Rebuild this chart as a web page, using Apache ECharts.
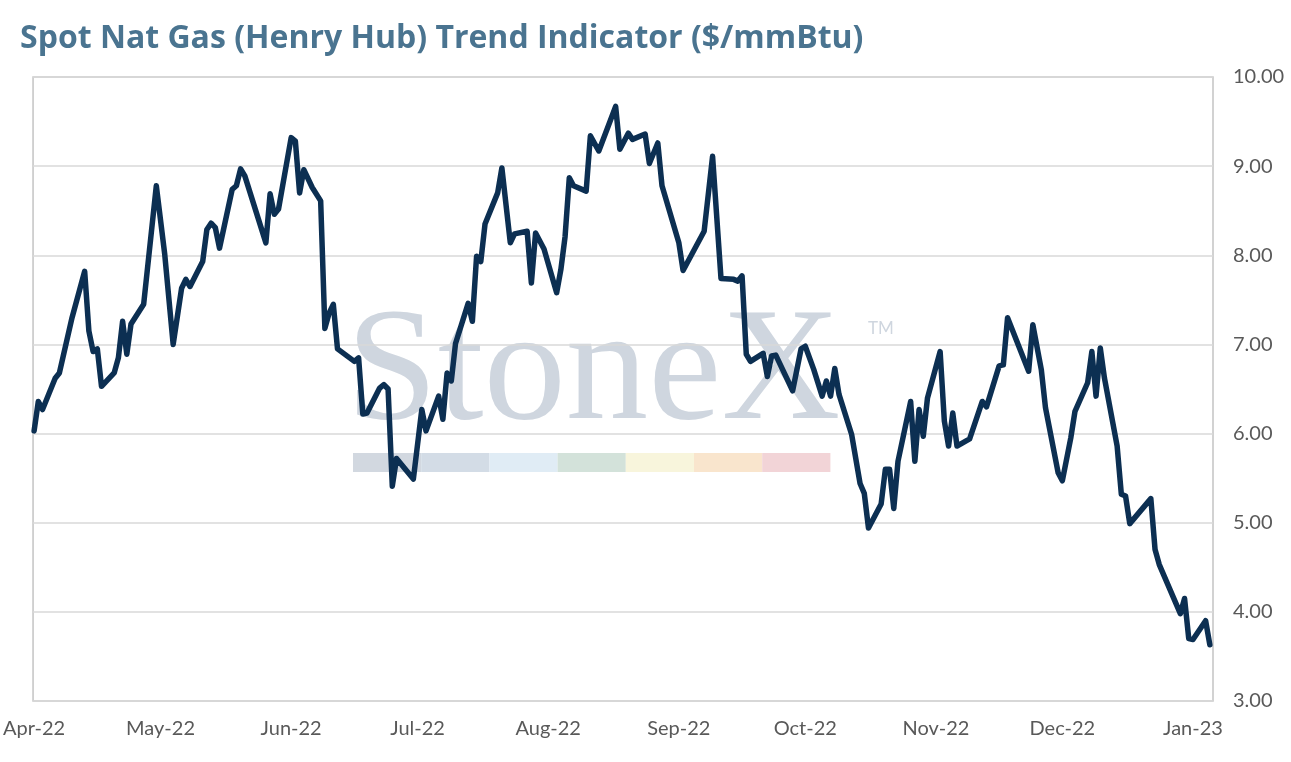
<!DOCTYPE html>
<html>
<head>
<meta charset="utf-8">
<title>Spot Nat Gas (Henry Hub) Trend Indicator</title>
<script src="https://cdn.jsdelivr.net/npm/echarts@6/dist/echarts.min.js"></script>
<style>
    html, body { margin: 0; padding: 0; background: #ffffff; }
    #chart-box { width: 1291px; height: 762px; }
</style>
</head>
<body>
<div id="chart-box"></div>

<script>
    // 数据：读图得到的价格拐点（日期 / $/mmBtu）
    var priceDates = [
        '2022-04-01', '2022-04-02', '2022-04-03', '2022-04-06', '2022-04-07', '2022-04-10', '2022-04-13', '2022-04-14',
        '2022-04-15', '2022-04-16', '2022-04-17', '2022-04-20', '2022-04-21', '2022-04-22', '2022-04-23', '2022-04-24',
        '2022-04-27', '2022-04-30', '2022-05-02', '2022-05-04', '2022-05-06', '2022-05-07', '2022-05-08', '2022-05-11',
        '2022-05-12', '2022-05-13', '2022-05-14', '2022-05-15', '2022-05-18', '2022-05-19', '2022-05-20', '2022-05-21',
        '2022-05-26', '2022-05-27', '2022-05-28', '2022-05-29', '2022-06-01', '2022-06-02', '2022-06-03', '2022-06-04',
        '2022-06-06', '2022-06-08', '2022-06-09', '2022-06-10', '2022-06-11', '2022-06-12', '2022-06-16', '2022-06-17',
        '2022-06-18', '2022-06-19', '2022-06-22', '2022-06-23', '2022-06-24', '2022-06-25', '2022-06-26', '2022-06-30',
        '2022-07-02', '2022-07-03', '2022-07-06', '2022-07-07', '2022-07-08', '2022-07-09', '2022-07-10', '2022-07-13',
        '2022-07-14', '2022-07-15', '2022-07-16', '2022-07-17', '2022-07-20', '2022-07-21', '2022-07-23', '2022-07-24',
        '2022-07-27', '2022-07-28', '2022-07-29', '2022-07-31', '2022-08-03', '2022-08-04', '2022-08-05', '2022-08-06',
        '2022-08-07', '2022-08-10', '2022-08-11', '2022-08-13', '2022-08-17', '2022-08-18', '2022-08-20', '2022-08-21',
        '2022-08-24', '2022-08-25', '2022-08-27', '2022-08-28', '2022-09-01', '2022-09-02', '2022-09-07', '2022-09-09',
        '2022-09-11', '2022-09-14', '2022-09-15', '2022-09-16', '2022-09-17', '2022-09-18', '2022-09-21', '2022-09-22',
        '2022-09-23', '2022-09-24', '2022-09-28', '2022-09-30', '2022-10-01', '2022-10-03', '2022-10-05', '2022-10-06',
        '2022-10-07', '2022-10-08', '2022-10-09', '2022-10-12', '2022-10-14', '2022-10-15', '2022-10-16', '2022-10-19',
        '2022-10-20', '2022-10-21', '2022-10-22', '2022-10-23', '2022-10-26', '2022-10-27', '2022-10-28', '2022-10-29',
        '2022-10-30', '2022-11-02', '2022-11-03', '2022-11-04', '2022-11-05', '2022-11-06', '2022-11-09', '2022-11-12',
        '2022-11-13', '2022-11-16', '2022-11-17', '2022-11-18', '2022-11-23', '2022-11-24', '2022-11-26', '2022-11-27',
        '2022-11-30', '2022-12-01', '2022-12-03', '2022-12-04', '2022-12-07', '2022-12-08', '2022-12-09', '2022-12-10',
        '2022-12-11', '2022-12-14', '2022-12-15', '2022-12-16', '2022-12-17', '2022-12-22', '2022-12-23', '2022-12-24',
        '2022-12-29', '2022-12-30', '2022-12-31', '2023-01-01', '2023-01-04', '2023-01-05'
    ];
    var priceValues = [
        6.03, 6.36, 6.27, 6.62, 6.68, 7.30, 7.82, 7.15,
        6.92, 6.95, 6.53, 6.68, 6.85, 7.26, 6.89, 7.23,
        7.45, 8.78, 8.01, 7.00, 7.63, 7.73, 7.65, 7.93,
        8.29, 8.36, 8.31, 8.08, 8.74, 8.78, 8.97, 8.89,
        8.14, 8.69, 8.46, 8.52, 9.32, 9.28, 8.70, 8.96,
        8.76, 8.61, 7.18, 7.35, 7.45, 6.95, 6.81, 6.85,
        6.22, 6.23, 6.51, 6.55, 6.50, 5.41, 5.72, 5.49,
        6.27, 6.03, 6.42, 6.16, 6.68, 6.59, 7.01, 7.46,
        7.26, 7.99, 7.93, 8.35, 8.70, 8.98, 8.14, 8.24,
        8.27, 7.69, 8.25, 8.07, 7.58, 7.84, 8.21, 8.87,
        8.78, 8.72, 9.34, 9.17, 9.67, 9.19, 9.37, 9.30,
        9.36, 9.03, 9.26, 8.78, 8.14, 7.83, 8.27, 9.11,
        7.74, 7.73, 7.71, 7.77, 6.89, 6.81, 6.90, 6.64,
        6.87, 6.88, 6.48, 6.95, 6.98, 6.72, 6.42, 6.59,
        6.42, 6.73, 6.44, 5.99, 5.44, 5.33, 4.94, 5.21,
        5.60, 5.60, 5.16, 5.69, 6.36, 5.69, 6.27, 5.97,
        6.40, 6.92, 6.14, 5.86, 6.23, 5.86, 5.94, 6.36,
        6.30, 6.76, 6.77, 7.30, 6.70, 7.22, 6.72, 6.29,
        5.56, 5.47, 5.95, 6.25, 6.57, 6.92, 6.42, 6.96,
        6.62, 5.86, 5.32, 5.30, 4.99, 5.27, 4.70, 4.53,
        3.98, 4.15, 3.70, 3.69, 3.90, 3.63
    ];
    // 横轴刻度（月初）与标签
    var tickDates = ['2022-04-01', '2022-05-01', '2022-06-01', '2022-07-01', '2022-08-01',
                     '2022-09-01', '2022-10-01', '2022-11-01', '2022-12-01', '2023-01-01'];
    var tickLabels = ['Apr-22', 'May-22', 'Jun-22', 'Jul-22', 'Aug-22',
                      'Sep-22', 'Oct-22', 'Nov-22', 'Dec-22', 'Jan-23'];
    // 纵轴范围
    var yMin = 3, yMax = 10, yStep = 1;

    // 日期 -> 距 2022-04-01 的天数（横轴用天数做数值轴）
    var DAY = 24 * 3600 * 1000;
    function toTime(s) {
        var p = s.split('-');
        return Date.UTC(+p[0], +p[1] - 1, +p[2]);
    }
    var t0 = toTime('2022-04-01');
    function toDay(s) { return Math.round((toTime(s) - t0) / DAY); }

    var tickDays = tickDates.map(toDay);
    var seriesData = priceDates.map(function (d, i) {
        return [toDay(d), priceValues[i]];
    });

    var xMin = -0.25;
    var xMax = toDay('2023-01-05') + 0.75;

    var labelFont = 'Lato, "Open Sans", sans-serif';
    var titleFont = '"Open Sans", Lato, sans-serif';
    var barColors = ['#d2d8e0', '#d3dce6', '#e0ecf5', '#d3e2da', '#f8f5dc', '#f9e5cd', '#f2d4d7'];
    var barLeft = 353, barTop = 453, barSeg = 68.2, barH = 19;

    // 水印 StoneX
    var watermark = [{
        type: 'text',
        left: 346, top: 296,
        scaleX: 1.03,
        z: -10,
        style: {
            text: 'StoneX',
            font: '160px "Liberation Serif", "DejaVu Serif", serif',
            fill: '#cfd6df'
        }
    }, {
        type: 'text',
        left: 868, top: 320,
        z: -10,
        style: {
            text: 'TM',
            font: '17px ' + labelFont,
            fill: '#cfd6df'
        }
    }];
    barColors.forEach(function (c, i) {
        watermark.push({
            type: 'rect',
            z: -10,
            shape: { x: barLeft + i * barSeg, y: barTop, width: barSeg, height: barH },
            style: { fill: c }
        });
    });

    var _gasChart = echarts.init(document.getElementById('chart-box'));
    var _gas_options = {
        backgroundColor: '#ffffff',
        animation: false,
        title: {
            text: 'Spot Nat Gas (Henry Hub) Trend Indicator ($/mmBtu)',
            left: 15,
            top: 18,
            textStyle: {
                color: '#4a7490',
                fontFamily: titleFont,
                fontWeight: 'bold',
                fontSize: 32
            }
        },
        graphic: watermark,
        grid: {
            left: 33,
            right: 78,
            top: 77,
            bottom: 61,
            show: true,
            borderColor: '#c4c4c4',
            borderWidth: 1.5,
            backgroundColor: 'transparent'
        },
        xAxis: {
            type: 'value',
            min: xMin,
            max: xMax,
            axisLine: { show: false },
            axisTick: { show: false },
            splitLine: { show: false },
            axisLabel: {
                customValues: tickDays,
                color: '#595959',
                fontFamily: labelFont,
                fontSize: 20,
                margin: 18,
                showMinLabel: true,
                formatter: function (val) {
                    var i = tickDays.indexOf(Math.round(val));
                    return i >= 0 ? tickLabels[i] : '';
                }
            }
        },
        yAxis: {
            type: 'value',
            position: 'right',
            min: yMin,
            max: yMax,
            interval: yStep,
            axisLine: { show: false },
            axisTick: { show: false },
            splitLine: { lineStyle: { color: '#d9d9d9', width: 1.5 } },
            axisLabel: {
                color: '#595959',
                fontFamily: labelFont,
                fontSize: 20,
                margin: 20,
                formatter: function (v) { return v.toFixed(2); }
            }
        },
        series: [{
            name: 'Henry Hub',
            type: 'line',
            data: seriesData,
            showSymbol: false,
            symbol: 'none',
            lineStyle: { color: '#0c2f52', width: 5.5, join: 'round', cap: 'round' },
            z: 5
        }]
    };
    _gasChart.setOption(_gas_options);
</script>
</body>
</html>
